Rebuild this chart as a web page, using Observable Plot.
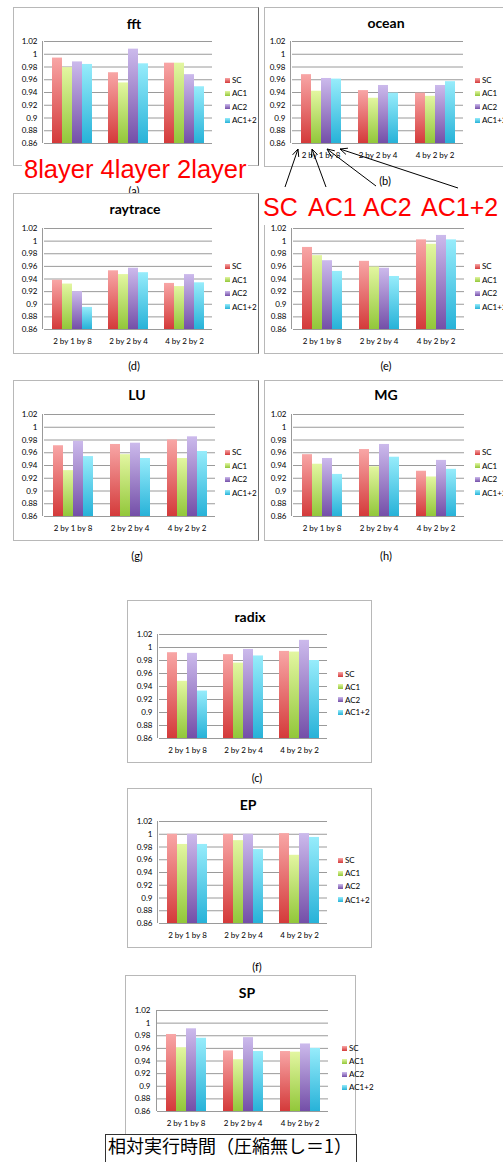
<!DOCTYPE html>
<html><head><meta charset="utf-8">
<script src="https://cdn.jsdelivr.net/npm/d3@7"></script>
<script src="https://cdn.jsdelivr.net/npm/@observablehq/plot@0.6"></script>
<style>
body{margin:0;background:#fff;}
#page{position:relative;width:503px;height:1162px;overflow:hidden;background:#fff;font-family:Lato,"Open Sans",sans-serif;color:#000;}
.frame{position:absolute;border:1px solid #b8b8b8;box-sizing:border-box;background:#fff;}
.title{position:absolute;font-weight:bold;font-size:14px;transform:translate(-50%,-50%);white-space:nowrap;line-height:1;}
.sub{position:absolute;font-size:11px;transform:translate(-50%,-50%);white-space:nowrap;line-height:1;}
.lg{position:absolute;font-size:8px;line-height:1;white-space:nowrap;}
.sw{position:absolute;width:5px;height:5px;}
.red{position:absolute;background:#fff;color:#f00;font-family:"Liberation Sans",Arial,sans-serif;font-size:26px;white-space:nowrap;}
#jp{position:absolute;left:105px;top:1134px;width:252px;height:40px;border:1px solid #333;box-sizing:border-box;background:#fff;font-family:"Noto Sans CJK JP",sans-serif;font-size:18px;line-height:20px;padding-left:2px;}
</style>
</head><body>
<div id="page"></div>
<script>
// ---- data ----
const categories = ["2 by 1 by 8", "2 by 2 by 4", "4 by 2 by 2"];
const series = ["SC", "AC1", "AC2", "AC1+2"];
const yTicks = [0.86, 0.88, 0.9, 0.92, 0.94, 0.96, 0.98, 1, 1.02];
const baseline = 0.86;
// values per category: [SC, AC1, AC2, AC1+2]
const fft      = [[0.994, 0.979, 0.988, 0.984], [0.971, 0.955, 1.008, 0.985], [0.986, 0.986, 0.968, 0.949]];
const ocean    = [[0.968, 0.942, 0.962, 0.961], [0.943, 0.931, 0.951, 0.939], [0.939, 0.934, 0.951, 0.957]];
const raytrace = [[0.938, 0.932, 0.920, 0.895], [0.953, 0.947, 0.957, 0.950], [0.933, 0.928, 0.947, 0.934]];
const panelE   = [[0.990, 0.977, 0.969, 0.952], [0.968, 0.959, 0.957, 0.944], [1.002, 0.995, 1.009, 1.002]];
const LU       = [[0.971, 0.932, 0.978, 0.954], [0.973, 0.957, 0.975, 0.951], [0.980, 0.951, 0.985, 0.962]];
const MG       = [[0.957, 0.942, 0.951, 0.926], [0.965, 0.938, 0.973, 0.953], [0.931, 0.922, 0.948, 0.934]];
const radix    = [[0.992, 0.948, 0.991, 0.933], [0.989, 0.976, 0.997, 0.987], [0.994, 0.993, 1.011, 0.980]];
const EP       = [[1.000, 0.984, 1.000, 0.984], [1.000, 0.990, 1.000, 0.976], [1.001, 0.967, 1.001, 0.995]];
const SP       = [[0.982, 0.961, 0.991, 0.976], [0.956, 0.942, 0.977, 0.955], [0.955, 0.954, 0.967, 0.960]];
const redTop = "8layer 4layer 2layer";
const redWords = ["SC", "AC1", "AC2", "AC1+2"];
const caption = "相対実行時間（圧縮無し＝1）";

// ---- styles ----
const gradTop = ["#f8a6a6", "#e3f6a1", "#ccbaec", "#97ecfb"];
const gradBot = ["#d43a3a", "#92c73a", "#744fa8", "#27b2d8"];

// ---- layout ----
const panels = [
  {title: "fft", values: fft, frame: [13, 7, 259, 166], plot: [43, 41, 213, 143], tpos: [134, 24], leg: [225, 80, 13.4], sub: "(a)", spos: [134, 190], dark: true, noCats: true},
  {title: "ocean", values: ocean, frame: [264, 7, 512, 167], plot: [291, 41, 464, 143], tpos: [386, 23], leg: [475, 80, 13.4], sub: "(b)", spos: [385, 180]},
  {title: "raytrace", values: raytrace, frame: [13, 193, 259, 354], plot: [43, 228, 213, 329], tpos: [135, 209], leg: [225, 266, 13.6], sub: "(d)", spos: [134, 365], dark: true},
  {title: "", values: panelE, frame: [264, 193, 512, 354], plot: [292, 228, 464, 329], tpos: [386, 209], leg: [475, 266, 13.6], sub: "(e)", spos: [386, 365]},
  {title: "LU", values: LU, frame: [13, 380, 259, 541], plot: [43, 414, 215, 516], tpos: [137, 395], leg: [225, 452, 13.6], sub: "(g)", spos: [137, 555], dark: true},
  {title: "MG", values: MG, frame: [264, 380, 512, 541], plot: [292, 414, 464, 516], tpos: [386, 395], leg: [475, 452, 13.6], sub: "(h)", spos: [386, 555]},
  {title: "radix", values: radix, frame: [127, 600, 372, 763], plot: [158, 634, 327, 738], tpos: [250, 617], leg: [338, 674, 12.8], sub: "(c)", spos: [257, 777]},
  {title: "EP", values: EP, frame: [127, 788, 372, 948], plot: [158, 821, 328, 923], tpos: [248, 805], leg: [338, 860, 13.2], sub: "(f)", spos: [257, 966]},
  {title: "SP", values: SP, frame: [125, 975, 356, 1140], plot: [157, 1010, 328, 1111], tpos: [247, 993], leg: [342, 1048, 13], sub: null}
];

const page = document.getElementById("page");

// gradient defs
const defs = d3.select(page).append("svg").attr("width", 0).attr("height", 0)
  .style("position", "absolute").append("defs");
series.forEach((s, j) => {
  const g = defs.append("linearGradient").attr("id", "grad" + j)
    .attr("x1", 0).attr("y1", 0).attr("x2", 0).attr("y2", 1);
  g.append("stop").attr("offset", 0).attr("stop-color", gradTop[j]);
  g.append("stop").attr("offset", 1).attr("stop-color", gradBot[j]);
});

const fmt = d => String(+d.toFixed(2));
const mL = 34, mR = 4, mT = 4, mB = 26;

function el(cls, css, text) {
  const d = document.createElement("div");
  d.className = cls;
  Object.assign(d.style, css);
  if (text != null) d.textContent = text;
  page.appendChild(d);
  return d;
}

panels.forEach(p => {
  const [fl, ft, fr, fb] = p.frame;
  const fr_ = el("frame", {left: fl + "px", top: ft + "px", width: (fr - fl) + "px", height: (fb - ft) + "px"});
  if (p.dark) fr_.style.borderRightColor = "#6a6a6a";
  if (p.title) el("title", {left: p.tpos[0] + "px", top: p.tpos[1] + "px"}, p.title);

  const [x0, y0, x1, y1] = p.plot;
  const rows = [];
  categories.forEach((c, i) => series.forEach((s, j) => rows.push({cat: c, series: s, v: p.values[i][j]})));
  const chart = Plot.plot({
    width: x1 - x0 + mL + mR,
    height: y1 - y0 + mT + mB,
    marginLeft: mL, marginRight: mR, marginTop: mT, marginBottom: mB,
    style: {fontFamily: "Lato, sans-serif", fontSize: "8px", background: "transparent", overflow: "visible", color: "#000"},
    fx: {domain: categories, padding: 0, label: null, axis: p.noCats ? null : "bottom", tickSize: 0, tickPadding: 9},
    x: {domain: series, paddingInner: 0, paddingOuter: 0.65, axis: null},
    y: {domain: [0.86, 1.02], ticks: yTicks, tickFormat: fmt, tickSize: 0, tickPadding: 7, label: null},
    marks: [
      Plot.ruleY(yTicks, {stroke: "#9a9a9a", strokeWidth: 1}),
      ...series.map((s, j) => Plot.barY(rows.filter(r => r.series === s),
        {fx: "cat", x: "series", y1: baseline, y2: "v", fill: `url(#grad${j})`}))
    ]
  });
  const ys = chart.scale("y");
  d3.select(chart).append("line")
    .attr("x1", mL - 0.5).attr("x2", mL - 0.5)
    .attr("y1", ys.apply(1.02)).attr("y2", ys.apply(0.86))
    .attr("stroke", "#9a9a9a");
  chart.style.position = "absolute";
  chart.style.left = (x0 - mL) + "px";
  chart.style.top = (y0 - mT) + "px";
  page.appendChild(chart);

  const [lx, ly, ld] = p.leg;
  series.forEach((s, j) => {
    el("sw", {left: lx + "px", top: (ly + j * ld - 2.5) + "px",
      background: `linear-gradient(${gradTop[j]}, ${gradBot[j]})`});
    el("lg", {left: (lx + 7) + "px", top: (ly + j * ld - 4) + "px"}, s);
  });
  if (p.sub) el("sub", {left: p.spos[0] + "px", top: p.spos[1] + "px"}, p.sub);
});

// red annotations (white boxes covering what lies below)
el("red", {left: "22px", top: "152px", width: "226px", height: "34px", lineHeight: "34px", paddingLeft: "2px", boxSizing: "border-box", fontSize: "25.5px"}, redTop);
const r2 = el("red", {left: "260px", top: "190px", width: "243px", height: "35px", lineHeight: "34px", fontSize: "25px"});
const wordX = [3, 48, 103, 161];
redWords.forEach((w, i) => {
  const s = document.createElement("span");
  s.textContent = w;
  s.style.position = "absolute";
  s.style.left = wordX[i] + "px";
  r2.appendChild(s);
});

// arrows from the labels to the ocean bars
const arrows = [
  [[285, 187], [298, 149]],
  [[326, 187], [312, 149]],
  [[376, 186], [327, 149]],
  [[458, 188], [340, 149]]
];
const ov = d3.select(page).append("svg").attr("width", 503).attr("height", 1162)
  .style("position", "absolute").style("left", 0).style("top", 0).style("pointer-events", "none");
arrows.forEach(([t, h]) => {
  ov.append("line").attr("x1", t[0]).attr("y1", t[1]).attr("x2", h[0]).attr("y2", h[1])
    .attr("stroke", "#000").attr("stroke-width", 1);
  const a = Math.atan2(t[1] - h[1], t[0] - h[0]);
  [0.42, -0.42].forEach(da => {
    ov.append("line").attr("x1", h[0]).attr("y1", h[1])
      .attr("x2", h[0] + 8 * Math.cos(a + da)).attr("y2", h[1] + 8 * Math.sin(a + da))
      .attr("stroke", "#000").attr("stroke-width", 1);
  });
});

const jp = el("", {}, caption);
jp.id = "jp";
</script>
</body></html>
